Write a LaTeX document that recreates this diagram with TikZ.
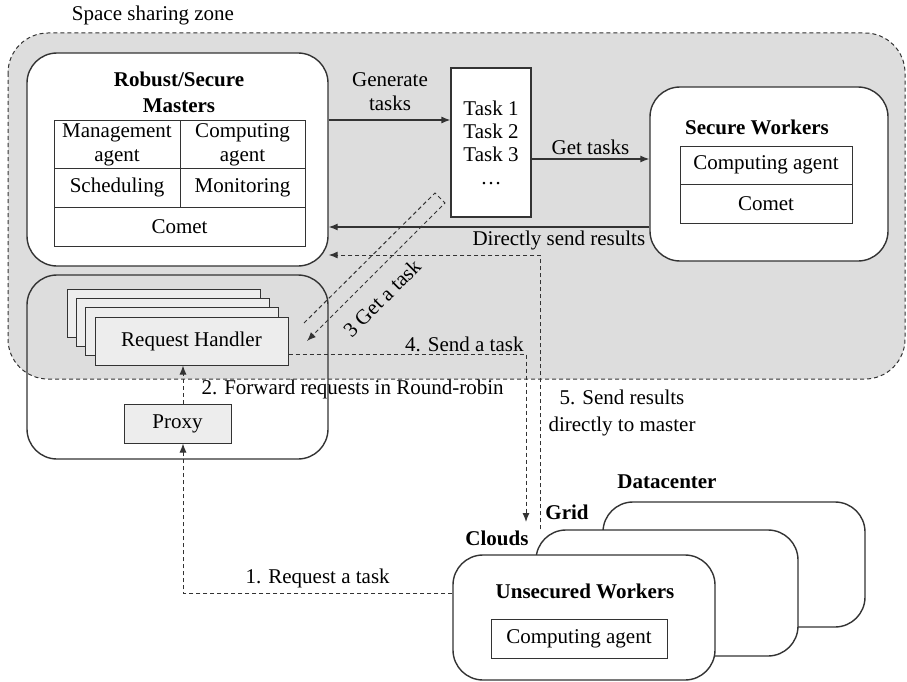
\documentclass[tikz,border=0pt]{standalone}
\usepackage{fontspec}
\setmainfont{Liberation Serif}
\usetikzlibrary{arrows.meta, positioning, calc}
\definecolor{zonegray}{HTML}{DDDDDD}
\definecolor{handlergray}{HTML}{EDEDED}
\definecolor{edgegray}{HTML}{333333}

\tikzset{
  roundbox/.style={draw=edgegray, line width=1.4pt, rounded corners=30pt, fill=white},
  cellbox/.style={draw=edgegray, line width=1pt, fill=white, align=center, inner sep=0pt},
  graybox/.style={draw=edgegray, line width=1pt, fill=handlergray, inner sep=0pt},
  boldtitle/.style={font=\fontsize{21}{26}\selectfont\bfseries, align=center},
  solidflow/.style={->, draw=edgegray, line width=1.2pt},
  dashflow/.style={->, draw=edgegray, line width=1pt, dash pattern=on 4pt off 3pt},
}

\begin{document}
\begin{tikzpicture}[>={Latex[length=9pt,width=7pt]}, x=1pt, y=-1pt, font=\fontsize{21}{24}\selectfont]
      \useasboundingbox (0,0) rectangle (907,682);

      \fill[zonegray, rounded corners=40pt] (8,33) rectangle (905,379);
      \draw[edgegray, line width=1pt, dash pattern=on 4pt off 3pt, rounded corners=40pt] (8,33) rectangle (905,379);
      \node (zonelabel) at (153,15) {Space sharing zone};

      % masters
      \node[roundbox, minimum width=301pt, minimum height=213pt] (masters) at (177.5,159.5) {};
      \node[boldtitle] (mastertitle) at (179,92) {Robust/Secure\\Masters};
      \node[cellbox, minimum width=126pt, minimum height=47pt] (mgmt) at (117,144.5) {Management\\agent};
      \node[cellbox, minimum width=125pt, minimum height=47pt] (mcomp) at (242.5,144.5) {Computing\\agent};
      \node[cellbox, minimum width=126pt, minimum height=39pt] (sched) at (117,187.5) {Scheduling};
      \node[cellbox, minimum width=125pt, minimum height=39pt] (monit) at (242.5,187.5) {Monitoring};
      \node[cellbox, minimum width=251pt, minimum height=39pt] (mcomet) at (179.5,226.5) {Comet};

      % task list
      \node[cellbox, line width=1.2pt, minimum width=80pt, minimum height=149pt, font=\fontsize{21}{23}\selectfont] (tasks) at (491,142.5) {Task 1\\Task 2\\Task 3\\\ldots};

      % secure workers
      \node[roundbox, minimum width=238pt, minimum height=174pt] (secure) at (769,174) {};
      \node[boldtitle] (securetitle) at (757,127) {Secure Workers};
      \node[cellbox, minimum width=172pt, minimum height=38pt] (scomp) at (766,165) {Computing agent};
      \node[cellbox, minimum width=172pt, minimum height=39pt] (scomet) at (766,203.5) {Comet};

      \draw[solidflow] (masters.east |- 0,120) -- (tasks.west |- 0,120);
      \node[align=center] (genlabel) at (390,92) {Generate\\tasks};
      \draw[solidflow] (tasks.east |- 0,159) -- (secure.west |- 0,159)
        node[midway, above] {Get tasks};
      \draw[solidflow] (secure.west |- 0,227) -- (masters.east |- 0,227)
        node[pos=0, anchor=north east, inner sep=3.5pt] {Directly send results};

      % request handler group
      \draw[edgegray, line width=1.4pt, rounded corners=30pt] (27,275) rectangle (328,459);
      \foreach \i in {0,1,2} {
        \draw[graybox] (67+9.33*\i,289+9.33*\i) rectangle (260+9.33*\i,337+9.33*\i);
      }
      \node[graybox, minimum width=193pt, minimum height=48pt] (handler) at (191.5,341) {Request Handler};
      \node[graybox, minimum width=107pt, minimum height=39pt] (proxy) at (177.5,423.5) {Proxy};

      % unsecured workers
      \node[roundbox, minimum width=262pt, minimum height=125pt] (datacenter) at (734,564.5) {};
      \node[roundbox, minimum width=262pt, minimum height=126pt] (grid) at (667,593) {};
      \node[roundbox, minimum width=262pt, minimum height=125pt] (clouds) at (584,617.5) {};
      \node[boldtitle] (dclabel) at (667,482) {Datacenter};
      \node[boldtitle] (gridlabel) at (567,512) {Grid};
      \node[boldtitle] (cloudlabel) at (497,538) {Clouds};
      \node[boldtitle] (unsectitle) at (585,591) {Unsecured Workers};
      \node[cellbox, minimum width=176pt, minimum height=39pt] (ucomp) at (579,638.5) {Computing agent};

      % numbered steps
      \draw[dashflow] (clouds.west |- 0,593) -| (proxy.south -| 183,0)
        node[pos=0.25, above=1pt] {1. Request a task};
      \draw[dashflow] (proxy.north -| 183,0) -- (handler.south -| 183,0);
      \node[anchor=west] (fwdlabel) at (198,389) {2. Forward requests in Round-robin};

      \coordinate (get1) at (304,323);
      \coordinate (get2) at (435,193);
      \coordinate (get3) at (445,203);
      \coordinate (get4) at (307,341);
      \draw[dashflow] (get1) -- (get2) -- (get3) -- (get4);
      \node[rotate=45, inner sep=1pt] (getlabel) at (382,298) {3 Get a task};

      \coordinate (cloudsin) at (526,522);
      \draw[dashflow] (handler.east |- 0,354) -| (cloudsin)
        node[pos=0.5, anchor=south east, inner sep=2pt] {4. Send a task};

      \draw[dashflow] (grid.north -| 540,0) |- (masters.east |- 0,255);
      \node[align=center, font=\fontsize{21}{27}\selectfont] (sendlabel) at (622,413) {5. Send results\\directly to master};
    \end{tikzpicture}
\end{document}
